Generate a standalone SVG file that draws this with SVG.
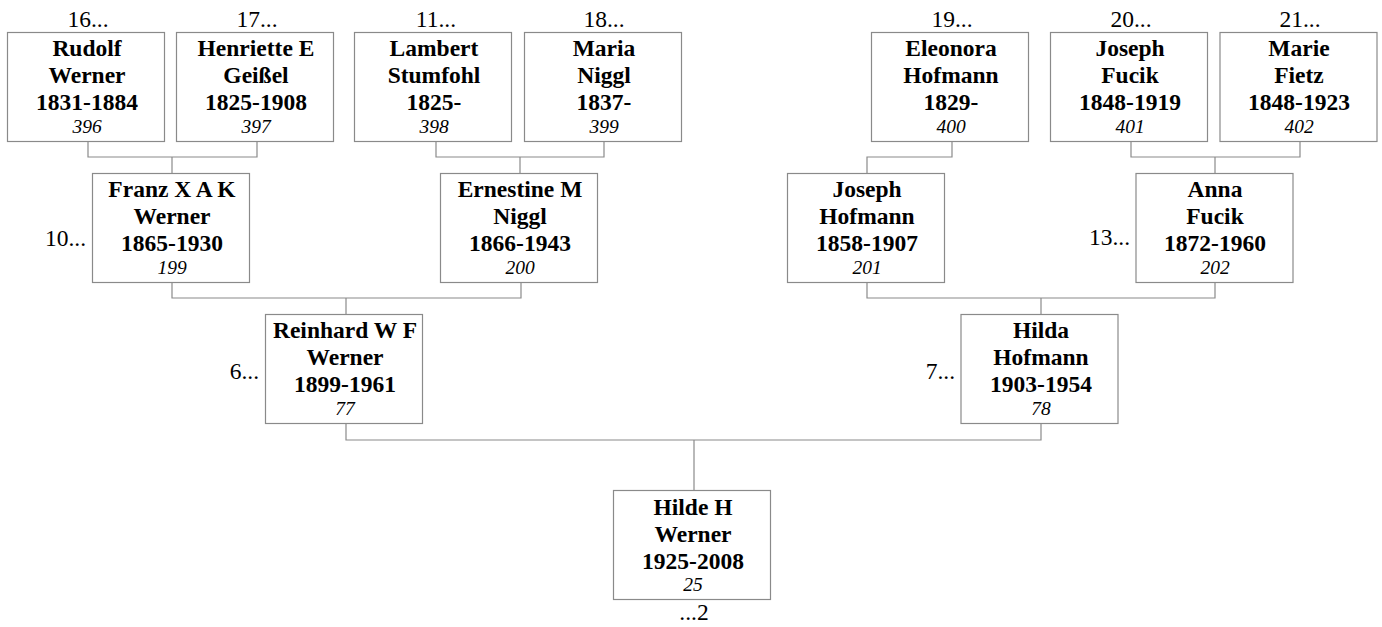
<svg xmlns="http://www.w3.org/2000/svg" width="1382" height="627" viewBox="0 0 1382 627">
<style>
.box{fill:#fff;stroke:#8a8a8a;stroke-width:1.2}
.con{fill:none;stroke:#8a8a8a;stroke-width:1.2}
text{font-family:"Liberation Serif","Times New Roman",serif;fill:#000}
.b{font-weight:bold;font-size:23.5px;text-anchor:middle}
.i{font-style:italic;font-size:19.5px;text-anchor:middle}
.l{font-size:23.5px}
.t{text-anchor:middle}
.e{text-anchor:end}
</style>
<rect width="1382" height="627" fill="#fff"/>
<g id="connectors" class="con">
<polyline points="88,141 88,157 257,157 257,141"/><line x1="172" y1="157" x2="172" y2="173"/>
<polyline points="436,141 436,157 604,157 604,141"/><line x1="520" y1="157" x2="520" y2="173"/>
<polyline points="952,141 952,157 867,157 867,173"/>
<polyline points="1131,141 1131,157 1300,157 1300,141"/><line x1="1215" y1="157" x2="1215" y2="173"/>
<polyline points="172,282 172,298 521,298 521,282"/><line x1="346" y1="298" x2="346" y2="314"/>
<polyline points="867,282 867,298 1215,298 1215,282"/><line x1="1041" y1="298" x2="1041" y2="314"/>
<polyline points="346,424 346,440 1041,440 1041,424"/><line x1="694" y1="440" x2="694" y2="490"/>
</g>
<g id="n396"><rect class="box" x="7.5" y="32.5" width="157" height="109"/>
<text class="l t" x="88" y="27">16...</text>
<text class="b" x="87" y="56">Rudolf</text><text class="b" x="87" y="83">Werner</text><text class="b" x="87" y="110">1831-1884</text><text class="i" x="87" y="133">396</text></g>
<g id="n397"><rect class="box" x="176.5" y="32.5" width="157" height="109"/>
<text class="l t" x="257" y="27">17...</text>
<text class="b" x="256" y="56">Henriette E</text><text class="b" x="256" y="83">Geißel</text><text class="b" x="256" y="110">1825-1908</text><text class="i" x="256" y="133">397</text></g>
<g id="n398"><rect class="box" x="354.5" y="32.5" width="157" height="109"/>
<text class="l t" x="436" y="27">11...</text>
<text class="b" x="434" y="56">Lambert</text><text class="b" x="434" y="83">Stumfohl</text><text class="b" x="434" y="110">1825-</text><text class="i" x="434" y="133">398</text></g>
<g id="n399"><rect class="box" x="524.5" y="32.5" width="157" height="109"/>
<text class="l t" x="604" y="27">18...</text>
<text class="b" x="604" y="56">Maria</text><text class="b" x="604" y="83">Niggl</text><text class="b" x="604" y="110">1837-</text><text class="i" x="604" y="133">399</text></g>
<g id="n400"><rect class="box" x="871.5" y="32.5" width="157" height="109"/>
<text class="l t" x="952" y="27">19...</text>
<text class="b" x="951" y="56">Eleonora</text><text class="b" x="951" y="83">Hofmann</text><text class="b" x="951" y="110">1829-</text><text class="i" x="951" y="133">400</text></g>
<g id="n401"><rect class="box" x="1050.5" y="32.5" width="157" height="109"/>
<text class="l t" x="1131" y="27">20...</text>
<text class="b" x="1130" y="56">Joseph</text><text class="b" x="1130" y="83">Fucik</text><text class="b" x="1130" y="110">1848-1919</text><text class="i" x="1130" y="133">401</text></g>
<g id="n402"><rect class="box" x="1220" y="32.5" width="157" height="109"/>
<text class="l t" x="1300" y="27">21...</text>
<text class="b" x="1299" y="56">Marie</text><text class="b" x="1299" y="83">Fietz</text><text class="b" x="1299" y="110">1848-1923</text><text class="i" x="1299" y="133">402</text></g>
<g id="n199"><rect class="box" x="92.5" y="173.5" width="157" height="109"/>
<text class="l e" x="86" y="246">10...</text>
<text class="b" x="172" y="197">Franz X A K</text><text class="b" x="172" y="224">Werner</text><text class="b" x="172" y="251">1865-1930</text><text class="i" x="172" y="274">199</text></g>
<g id="n200"><rect class="box" x="440.5" y="173.5" width="157" height="109"/>
<text class="b" x="520" y="197">Ernestine M</text><text class="b" x="520" y="224">Niggl</text><text class="b" x="520" y="251">1866-1943</text><text class="i" x="520" y="274">200</text></g>
<g id="n201"><rect class="box" x="787.5" y="173.5" width="157" height="109"/>
<text class="b" x="867" y="197">Joseph</text><text class="b" x="867" y="224">Hofmann</text><text class="b" x="867" y="251">1858-1907</text><text class="i" x="867" y="274">201</text></g>
<g id="n202"><rect class="box" x="1136" y="173.5" width="157" height="109"/>
<text class="l e" x="1130" y="245">13...</text>
<text class="b" x="1215" y="197">Anna</text><text class="b" x="1215" y="224">Fucik</text><text class="b" x="1215" y="251">1872-1960</text><text class="i" x="1215" y="274">202</text></g>
<g id="n77"><rect class="box" x="265.5" y="314.5" width="157" height="109"/>
<text class="l e" x="259" y="379">6...</text>
<text class="b" x="345" y="338">Reinhard W F</text><text class="b" x="345" y="365">Werner</text><text class="b" x="345" y="392">1899-1961</text><text class="i" x="345" y="415">77</text></g>
<g id="n78"><rect class="box" x="961" y="314.5" width="157" height="109"/>
<text class="l e" x="955" y="379">7...</text>
<text class="b" x="1041" y="338">Hilda</text><text class="b" x="1041" y="365">Hofmann</text><text class="b" x="1041" y="392">1903-1954</text><text class="i" x="1041" y="415">78</text></g>
<g id="n25"><rect class="box" x="613.5" y="490.5" width="157" height="109"/>
<text class="b" x="693" y="515">Hilde H</text><text class="b" x="693" y="542">Werner</text><text class="b" x="693" y="569">1925-2008</text><text class="i" x="693" y="591">25</text>
<text class="l t" x="694" y="620">...2</text></g>
</svg>
